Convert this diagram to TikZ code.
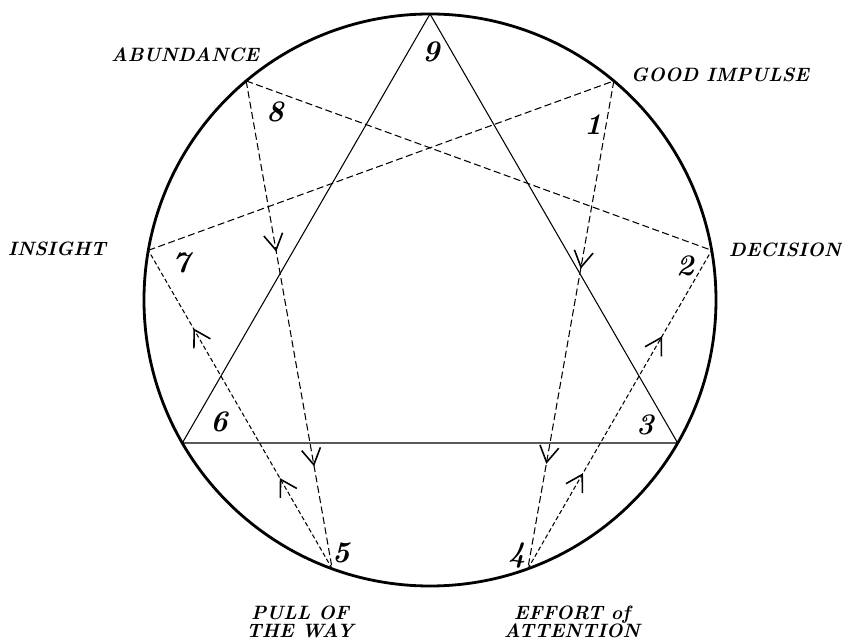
\documentclass[tikz,border=0pt]{standalone}
\usetikzlibrary{arrows.meta, decorations.markings}
\begin{document}
\begin{tikzpicture}[x=0.02cm, y=0.02cm,
        >={Straight Barb[length=3.2mm, width=3.8mm, line width=0.9pt]},
        % Define line styles
        rim/.style={line width=1.6pt},
        solidline/.style={line width=0.6pt},
        dashline/.style={line width=0.6pt, dash pattern=on 4pt off 2pt},
        fineline/.style={line width=0.6pt, dash pattern=on 2.5pt off 1.5pt},
        flow/.style 2 args={postaction={decorate}, decoration={markings,
            mark=at position #1 with {\arrow{>}},
            mark=at position #2 with {\arrow{>}}}},
        digit/.style={font=\fontsize{17}{17}\selectfont\bfseries\itshape},
        tag/.style={font=\fontsize{11}{10.5}\selectfont\bfseries\itshape, align=center}
    ]
    \useasboundingbox (-430,-342) rectangle (412,300);

    % --- Circle and its nine points ---
    \coordinate (c) at (0,0);
    \draw[rim] (c) circle (286);
    \coordinate (p9) at (90:286);
    \coordinate (p1) at (50:286);
    \coordinate (p2) at (10:286);
    \coordinate (p3) at (-30:286);
    \coordinate (p4) at (-70:286);
    \coordinate (p5) at (-110:286);
    \coordinate (p6) at (-150:286);
    \coordinate (p7) at (170:286);
    \coordinate (p8) at (130:286);

    % --- Digits ---
    \node[digit] (n9) at (1,248) {9};
    \node[digit] (n8) at (-155,188) {8};
    \node[digit] (n1) at (163,175) {1};
    \node[digit] (n7) at (-249,37) {7};
    \node[digit] (n2) at (255,34) {2};
    \node[digit] (n6) at (-211,-122) {6};
    \node[digit] (n3) at (215,-125) {3};
    \node[digit] (n5) at (-89,-253) {5};
    \node[digit] (n4) at (87,-256) {4};

    % --- Names round the circle ---
    \node[tag] (abundance) at (-245,245) {ABUNDANCE};
    \node[tag] (impulse) at (290,225) {GOOD IMPULSE};
    \node[tag] (insight) at (-373,51) {INSIGHT};
    \node[tag] (decision) at (355,50) {DECISION};
    \node[tag] (pull) at (-130,-322) {PULL OF\\THE WAY};
    \node[tag] (effort) at (142,-322) {EFFORT of\\ATTENTION};

    % --- Triangle ---
    \draw[solidline] (p9) -- (p3) -- (p6) -- cycle;

    % --- Hexad ---
    \draw[dashline] (p7) -- (p1);
    \draw[dashline] (p8) -- (p2);
    \draw[dashline, flow={0.35}{0.79}] (p8) -- (p5);
    \draw[dashline, flow={0.385}{0.785}] (p1) -- (p4);
    \draw[fineline, flow={0.285}{0.755}] (p5) -- (p7);
    \draw[fineline, flow={0.30}{0.73}] (p4) -- (p2);

\end{tikzpicture}
\end{document}
